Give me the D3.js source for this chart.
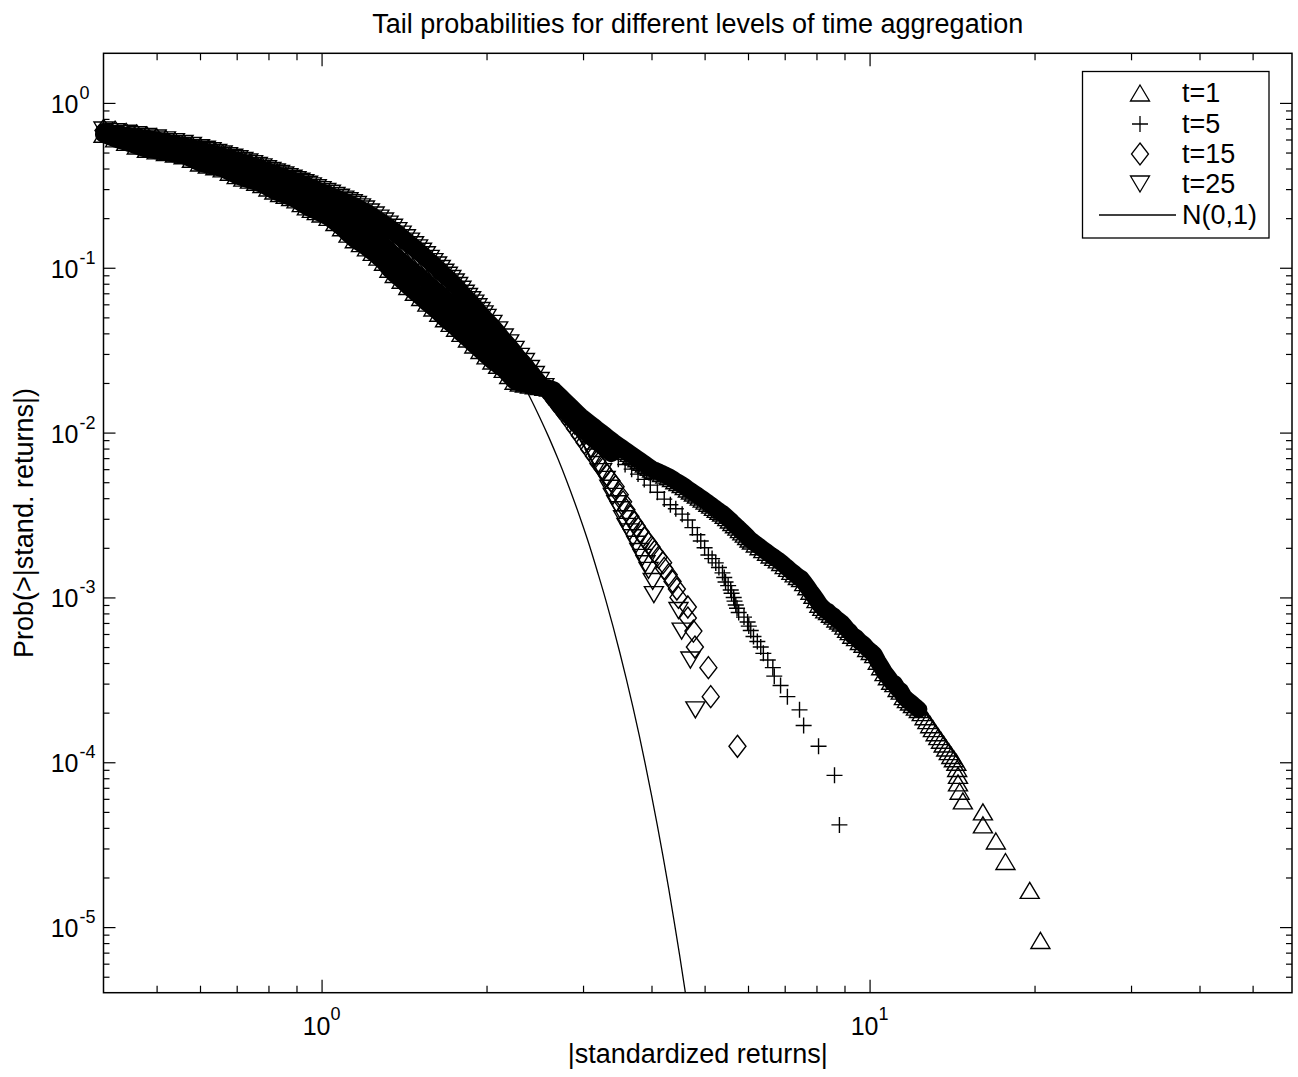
<!DOCTYPE html>
<html>
<head>
<meta charset="utf-8">
<script src="https://cdn.jsdelivr.net/npm/d3@7"></script>
<style>
body { margin: 0; background: #fff; }
text { font-family: "Liberation Sans", Arial, Helvetica, sans-serif; fill: #000; }
</style>
</head>
<body>
<svg id="chart" width="1298" height="1077"></svg>
<script>

// tick labels (powers of ten)
var xMajor = [1, 10];
var xMajorExp = ["0", "1"];
var yMajor = [1, 1e-1, 1e-2, 1e-3, 1e-4, 1e-5];
var yMajorExp = ["0", "-1", "-2", "-3", "-4", "-5"];

var seriesNames = ["t=1", "t=5", "t=15", "t=25", "N(0,1)"];

// where each series' markers pile up into a solid run (x upper limit)
var solidUntil = [12.4, 3.4, 2.75, 2.75];

// [ |standardized return| , Prob(>|x|) ]
var t1 = [
  [0.40,0.645],[0.42,0.605],[0.44,0.576],[0.46,0.548],[0.48,0.523],[0.50,0.512],[0.52,0.500],[0.54,0.490],[0.56,0.478],[0.58,0.455],
  [0.60,0.432],[0.62,0.420],[0.64,0.410],[0.66,0.398],[0.68,0.380],[0.70,0.362],[0.72,0.350],[0.74,0.340],[0.76,0.330],[0.78,0.320],
  [0.80,0.305],[0.82,0.292],[0.84,0.282],[0.86,0.275],[0.88,0.267],[0.90,0.258],[0.92,0.245],[0.94,0.234],[0.96,0.226],[0.98,0.219],
  [1.00,0.212],[1.03,0.202],[1.06,0.188],[1.09,0.175],[1.12,0.160],[1.15,0.148],[1.18,0.140],[1.21,0.132],[1.24,0.124],[1.27,0.116],
  [1.30,0.108],[1.33,0.098],[1.36,0.091],[1.40,0.084],[1.44,0.077],[1.48,0.071],[1.52,0.066],[1.56,0.061],[1.60,0.057],[1.64,0.053],
  [1.68,0.049],[1.72,0.046],[1.76,0.043],[1.80,0.040],[1.85,0.037],[1.90,0.034],[1.95,0.0315],[2.00,0.0292],[2.05,0.0272],[2.10,0.0256],
  [2.15,0.0242],[2.20,0.0222],[2.25,0.0205],[2.30,0.0200],[2.35,0.0197],[2.40,0.0194],[2.45,0.0192],[2.50,0.0190],[2.55,0.0188],[2.60,0.0186],
  [2.65,0.0182],[2.69,0.01733],[2.73,0.01652],[2.77,0.01576],[2.81,0.01505],[2.85,0.01437],[2.89,0.01374],[2.93,0.01314],[2.97,0.01258],[3.01,0.01215],
  [3.05,0.01174],[3.09,0.01134],[3.13,0.01097],[3.17,0.0106],[3.21,0.01027],[3.25,0.00994],[3.29,0.00963],[3.33,0.00933],[3.37,0.00905],[3.41,0.00877],
  [3.45,0.00854],[3.49,0.00831],[3.53,0.00809],[3.57,0.00788],[3.61,0.00768],[3.65,0.00748],[3.69,0.00729],[3.73,0.00711],[3.77,0.00694],[3.81,0.00677],
  [3.85,0.00661],[3.89,0.00645],[3.93,0.0063],[3.97,0.00615],[4.01,0.0060],[4.06,0.0059],[4.12,0.00578],[4.18,0.00565],[4.24,0.00552],[4.30,0.0054],
  [4.36,0.00526],[4.42,0.0051],[4.48,0.00497],[4.54,0.00484],[4.60,0.0047],[4.66,0.00455],[4.72,0.00442],[4.78,0.0043],[4.84,0.00418],[4.90,0.00406],
  [4.96,0.00395],[5.02,0.00384],[5.08,0.00373],[5.14,0.00363],[5.20,0.00352],[5.26,0.00342],[5.32,0.00333],[5.38,0.00325],[5.44,0.00315],[5.50,0.00305],
  [5.56,0.00295],[5.62,0.00285],[5.68,0.00276],[5.74,0.00267],[5.80,0.00258],[5.86,0.0025],[5.92,0.00242],[5.98,0.00234],[6.04,0.00226],[6.10,0.0022],
  [6.20,0.00211],[6.30,0.00203],[6.40,0.00195],[6.50,0.00188],[6.60,0.00181],[6.70,0.00175],[6.80,0.00169],[6.90,0.00163],[7.00,0.00156],[7.10,0.0015],
  [7.20,0.00144],[7.30,0.00139],[7.40,0.00134],[7.50,0.0013],[7.60,0.00123],[7.70,0.00116],[7.80,0.00109],[7.90,0.00103],[8.00,0.00097],[8.10,0.00091],
  [8.20,0.00087],[8.30,0.00084],[8.40,0.00082],[8.50,0.00079],[8.60,0.00077],[8.70,0.00074],[8.80,0.00072],[8.90,0.0007],[9.00,0.00067],[9.10,0.00064],
  [9.20,0.00062],[9.30,0.00059],[9.45,0.00057],[9.60,0.00054],[9.75,0.00052],[9.90,0.00049],[10.05,0.00047],[10.20,0.00045],[10.35,0.00041],[10.50,0.00038],
  [10.65,0.00035],[10.80,0.00033],[10.95,0.00031],[11.10,0.0003],[11.25,0.00028],[11.40,0.00027],[11.55,0.00025],[11.70,0.00024],[11.85,0.000232],[12.00,0.000224],
  [12.15,0.000216],[12.30,0.000209],[12.45,0.0002],[12.60,0.000189],[12.75,0.000179],[12.90,0.000169],[13.05,0.00016],[13.20,0.000151],[13.35,0.000143],[13.50,0.000136],
  [13.65,0.000129],[13.80,0.000122],[13.95,0.000116],[14.10,0.00011],[14.25,0.000105],[14.40,0.0001],[14.45,0.0000917],[14.50,0.0000833],[14.50,0.000075],[14.60,0.0000667],
  [14.80,0.0000583],[16.10,0.00005],[16.10,0.0000417],[17.00,0.0000333],[17.70,0.000025],[19.60,0.0000167],[20.50,0.0000083]
];

var t5 = [
  [0.40,0.675],[0.42,0.655],[0.44,0.628],[0.46,0.605],[0.48,0.585],[0.50,0.565],[0.52,0.548],[0.54,0.531],[0.56,0.515],[0.58,0.498],
  [0.60,0.482],[0.62,0.466],[0.64,0.451],[0.66,0.437],[0.68,0.423],[0.70,0.408],[0.72,0.394],[0.74,0.381],[0.76,0.368],[0.78,0.356],
  [0.80,0.344],[0.83,0.328],[0.86,0.312],[0.89,0.297],[0.92,0.283],[0.95,0.269],[0.98,0.256],[1.01,0.244],[1.04,0.232],[1.07,0.217],
  [1.10,0.202],[1.13,0.190],[1.16,0.180],[1.19,0.171],[1.22,0.160],[1.26,0.149],[1.30,0.137],[1.34,0.125],[1.38,0.115],[1.42,0.106],
  [1.46,0.098],[1.50,0.091],[1.55,0.083],[1.60,0.0755],[1.65,0.0688],[1.70,0.0628],[1.75,0.0573],[1.80,0.0522],[1.85,0.0479],[1.90,0.0436],
  [1.95,0.0401],[2.00,0.037],[2.06,0.0336],[2.12,0.031],[2.18,0.0281],[2.24,0.0254],[2.30,0.0237],[2.36,0.0224],[2.42,0.0212],[2.48,0.0200],
  [2.54,0.0189],[2.60,0.0178],[2.66,0.0163],[2.72,0.0148],[2.78,0.0134],[2.85,0.0122],[2.92,0.0112],[3.00,0.0103],[3.08,0.0095],[3.18,0.0087],
  [3.28,0.0080],[3.38,0.0074],[3.48,0.0069],[3.58,0.0064],[3.68,0.0060],[3.78,0.0056],[3.88,0.0052],[3.98,0.0048],[4.10,0.00435],[4.22,0.00395],
  [4.33,0.00365],[4.43,0.00345],[4.55,0.0032],[4.66,0.00295],[4.75,0.00265],[4.85,0.0024],[4.92,0.0022],[5.00,0.0020],[5.08,0.00181],[5.16,0.00172],
  [5.24,0.00162],[5.31,0.00152],[5.39,0.00141],[5.43,0.00132],[5.46,0.00124],[5.52,0.00118],[5.58,0.00111],[5.60,0.00106],[5.65,0.00100],[5.67,0.00095],
  [5.70,0.00090],[5.73,0.00086],[5.77,0.00081],[5.90,0.00076],[5.99,0.00071],[6.02,0.00067],[6.07,0.00063],[6.14,0.00058],[6.24,0.00054],[6.33,0.00050],
  [6.40,0.000458],[6.52,0.000417],[6.66,0.000375],[6.70,0.000333],[6.88,0.000292],[7.08,0.000250],[7.45,0.000208],[7.58,0.000167],[8.07,0.000125],[8.63,0.0000833],
  [8.81,0.0000417]
];

var t15 = [
  [0.40,0.680],[0.42,0.664],[0.44,0.645],[0.46,0.630],[0.48,0.613],[0.50,0.598],[0.52,0.582],[0.54,0.566],[0.56,0.550],[0.58,0.535],
  [0.60,0.520],[0.62,0.505],[0.64,0.490],[0.66,0.476],[0.68,0.462],[0.70,0.448],[0.72,0.434],[0.74,0.421],[0.76,0.408],[0.78,0.395],
  [0.80,0.383],[0.83,0.366],[0.86,0.349],[0.89,0.334],[0.92,0.319],[0.95,0.305],[0.98,0.291],[1.01,0.278],[1.04,0.266],[1.07,0.254],
  [1.10,0.242],[1.13,0.231],[1.16,0.220],[1.19,0.209],[1.22,0.199],[1.26,0.186],[1.30,0.174],[1.34,0.162],[1.38,0.151],[1.42,0.140],
  [1.46,0.130],[1.50,0.121],[1.55,0.110],[1.60,0.100],[1.65,0.091],[1.70,0.083],[1.75,0.075],[1.80,0.068],[1.85,0.062],[1.90,0.056],
  [1.95,0.051],[2.00,0.047],[2.06,0.042],[2.12,0.038],[2.18,0.034],[2.24,0.031],[2.30,0.028],[2.36,0.0255],[2.42,0.0232],[2.48,0.021],
  [2.54,0.019],[2.60,0.0172],[2.66,0.0156],[2.72,0.0142],[2.78,0.0129],[2.84,0.0117],[2.90,0.0106],[2.96,0.0096],[3.02,0.0087],[3.08,0.0079],
  [3.14,0.0072],[3.20,0.0065],[3.26,0.0060],[3.32,0.0055],[3.38,0.0051],[3.44,0.0047],[3.50,0.0042],[3.55,0.0038],[3.60,0.0034],[3.66,0.0031],
  [3.72,0.00285],[3.76,0.0027],[3.82,0.0025],[3.88,0.0023],[3.95,0.00215],[4.00,0.00202],[4.05,0.0019],[4.12,0.00175],[4.20,0.001625],[4.22,0.0015],
  [4.30,0.001375],[4.37,0.00125],[4.45,0.001125],[4.48,0.001],[4.66,0.000875],[4.66,0.00075],[4.77,0.000625],[4.80,0.0005],[5.08,0.000375],[5.13,0.00025],
  [5.74,0.000125]
];

var t25 = [
  [0.40,0.685],[0.42,0.670],[0.44,0.655],[0.46,0.641],[0.48,0.627],[0.50,0.613],[0.52,0.597],[0.54,0.582],[0.56,0.567],[0.58,0.552],
  [0.60,0.535],[0.615,0.524],[0.63,0.513],[0.645,0.501],[0.66,0.490],[0.675,0.479],[0.69,0.468],[0.705,0.458],[0.72,0.448],[0.735,0.438],
  [0.75,0.428],[0.765,0.418],[0.78,0.409],[0.795,0.399],[0.81,0.390],[0.825,0.381],[0.84,0.373],[0.855,0.365],[0.87,0.357],[0.885,0.349],
  [0.90,0.342],[0.915,0.335],[0.93,0.328],[0.945,0.321],[0.96,0.314],[0.98,0.306],[1.00,0.298],[1.02,0.290],[1.04,0.283],[1.06,0.275],
  [1.08,0.268],[1.10,0.261],[1.12,0.255],[1.14,0.248],[1.16,0.242],[1.18,0.234],[1.20,0.227],[1.225,0.218],[1.25,0.209],[1.275,0.200],
  [1.30,0.192],[1.325,0.184],[1.35,0.176],[1.375,0.168],[1.40,0.160],[1.425,0.152],[1.45,0.145],[1.475,0.138],[1.50,0.132],[1.525,0.126],
  [1.55,0.120],[1.575,0.114],[1.60,0.109],[1.625,0.104],[1.65,0.099],[1.675,0.094],[1.70,0.090],[1.725,0.086],[1.75,0.082],[1.775,0.078],
  [1.80,0.074],[1.825,0.070],[1.85,0.067],[1.875,0.064],[1.90,0.061],[1.925,0.058],[1.95,0.055],[1.975,0.0525],[2.00,0.050],[2.05,0.046],
  [2.10,0.042],[2.15,0.038],[2.20,0.035],[2.25,0.032],[2.30,0.029],[2.35,0.027],[2.40,0.0245],[2.45,0.0225],[2.50,0.0207],[2.55,0.0190],
  [2.60,0.0175],[2.65,0.0160],[2.70,0.0147],[2.75,0.0135],[2.80,0.0125],[2.85,0.0116],[2.90,0.0109],[2.95,0.0102],[3.00,0.0094],[3.05,0.0087],
  [3.10,0.0079],[3.15,0.0071],[3.20,0.0064],[3.25,0.0058],[3.30,0.0052],[3.35,0.0046],[3.40,0.0041],[3.45,0.0037],[3.50,0.0034],[3.55,0.0030],
  [3.60,0.0027],[3.65,0.0025],[3.70,0.0023],[3.75,0.0021],[3.80,0.0019],[3.85,0.00175],[3.90,0.0016],[3.95,0.00146],[4.02,0.00125],[4.04,0.00104],
  [4.48,0.000833],[4.54,0.000625],[4.71,0.000417],[4.81,0.000208]
];

// standard normal two-sided tail P(|Z|>x)
var normal = [
  [0.40,0.6892],[0.50,0.6171],[0.60,0.5485],[0.70,0.4839],[0.80,0.4237],[0.90,0.3681],[1.00,0.3173],[1.10,0.2713],[1.20,0.2301],[1.30,0.1936],
  [1.40,0.1615],[1.50,0.1336],[1.60,0.1096],[1.70,0.0891],[1.80,0.0719],[1.90,0.0574],[2.00,0.0455],[2.10,0.0357],[2.20,0.0278],[2.30,0.0214],
  [2.40,0.0164],[2.50,0.0124],[2.60,0.00932],[2.70,0.00693],[2.80,0.00511],[2.90,0.00373],[3.00,0.00270],[3.10,0.00194],[3.20,0.00137],[3.30,0.000967],
  [3.40,0.000674],[3.50,0.000465],[3.60,0.000318],[3.70,0.000216],[3.80,0.000145],[3.90,0.0000962],[4.00,0.0000633],[4.10,0.0000413],[4.20,0.0000267],[4.30,0.0000171],
  [4.40,0.0000108],[4.50,0.0000068],[4.60,0.00000423],[4.70,0.0000026]
];

var W = 1298, H = 1077;
var mLeft = 103.5, mRight = 1292, mTop = 53.3, mBottom = 992.7;

var x = d3.scaleLog().domain([0.4, 59]).range([mLeft, mRight]);
var y = d3.scaleLog().domain([4e-6, 2]).range([mBottom, mTop]);

var svg = d3.select('#chart');
svg.append('rect').attr('width', W).attr('height', H).attr('fill', '#fff');

// marker shapes (MATLAB-like)
var markers = {
  triUp: "M0,-8L9.5,8L-9.5,8Z",
  plus: "M-8,0H8M0,-8V8",
  diamond: "M0,-11L8.5,0L0,11L-8.5,0Z",
  triDown: "M0,8L9.5,-8L-9.5,-8Z"
};

// minor tick values
var xMinor = [];
[0.1, 1, 10].forEach(function(d) {
  for (var k = 2; k <= 9; k++) {
    var v = k * d;
    if (v > 0.4 && v < 59) xMinor.push(v);
  }
});
var yMinor = [];
[1e-6, 1e-5, 1e-4, 1e-3, 1e-2, 1e-1, 1].forEach(function(d) {
  for (var k = 2; k <= 9; k++) {
    var v = k * d;
    if (v > 4e-6 && v < 2) yMinor.push(v);
  }
});

function tickGroup(axis, vals, size, tr) {
  var g = svg.append('g').attr('transform', tr)
    .call(axis.tickValues(vals).tickSize(-size).tickSizeOuter(0).tickFormat(''));
  g.select('.domain').remove();
  g.selectAll('line').attr('stroke', '#000').attr('stroke-width', 1.2);
}

tickGroup(d3.axisBottom(x), xMajor, 13, 'translate(0,' + mBottom + ')');
tickGroup(d3.axisBottom(x), xMinor, 7, 'translate(0,' + mBottom + ')');
tickGroup(d3.axisTop(x), xMajor, 13, 'translate(0,' + mTop + ')');
tickGroup(d3.axisTop(x), xMinor, 7, 'translate(0,' + mTop + ')');
tickGroup(d3.axisLeft(y), yMajor, 12, 'translate(' + mLeft + ',0)');
tickGroup(d3.axisLeft(y), yMinor, 6, 'translate(' + mLeft + ',0)');
tickGroup(d3.axisRight(y), yMajor, 12, 'translate(' + mRight + ',0)');
tickGroup(d3.axisRight(y), yMinor, 6, 'translate(' + mRight + ',0)');

// tick labels 10^n
xMajor.forEach(function(v, i) {
  var t = svg.append('text').attr('x', x(v)).attr('y', 1035)
    .attr('text-anchor', 'middle').style('font-size', '25px');
  t.append('tspan').text('10');
  t.append('tspan').attr('dy', -15).style('font-size', '18px').text(xMajorExp[i]);
});
yMajor.forEach(function(v, i) {
  svg.append('text').attr('x', 78.5).attr('y', y(v) + 10)
    .attr('text-anchor', 'end').style('font-size', '25px').text('10');
  svg.append('text').attr('x', 79.5).attr('y', y(v) - 4)
    .attr('text-anchor', 'start').style('font-size', '18px').text(yMajorExp[i]);
});

// plot frame
svg.append('rect')
  .attr('x', mLeft).attr('y', mTop)
  .attr('width', mRight - mLeft).attr('height', mBottom - mTop)
  .attr('fill', 'none').attr('stroke', '#000').attr('stroke-width', 1.5);

var line = d3.line().x(function(d) { return x(d[0]); }).y(function(d) { return y(d[1]); });

// series: the overlapping markers merge into a solid black run, then the markers themselves
function drawSeries(data, shape, limit, runWidth) {
  svg.append('path').datum(data.filter(function(d) { return d[0] <= limit; }))
    .attr('d', line).attr('fill', 'none').attr('stroke', '#000')
    .attr('stroke-width', runWidth).attr('stroke-linejoin', 'round').attr('stroke-linecap', 'round');
  svg.append('g').selectAll('path').data(data).join('path')
    .attr('d', markers[shape])
    .attr('transform', function(d) { return 'translate(' + x(d[0]) + ',' + y(d[1]) + ')'; })
    .attr('fill', 'none').attr('stroke', '#000').attr('stroke-width', 1.4);
}
drawSeries(t1, 'triUp', solidUntil[0], 17);
drawSeries(t5, 'plus', solidUntil[1], 16);
drawSeries(t15, 'diamond', solidUntil[2], 13);
drawSeries(t25, 'triDown', solidUntil[3], 13);

svg.append('clipPath').attr('id', 'plotclip').append('rect')
  .attr('x', mLeft).attr('y', mTop).attr('width', mRight - mLeft).attr('height', mBottom - mTop);

svg.append('path').datum(normal)
  .attr('clip-path', 'url(#plotclip)')
  .attr('d', line.curve(d3.curveMonotoneX)).attr('fill', 'none').attr('stroke', '#000').attr('stroke-width', 1.3);

// legend
var lg = svg.append('g');
lg.append('rect').attr('x', 1082.5).attr('y', 71.5).attr('width', 186.5).attr('height', 166.5)
  .attr('fill', '#fff').attr('stroke', '#000').attr('stroke-width', 1.3);
var legendShapes = ['triUp', 'plus', 'diamond', 'triDown'];
var rowY = [93, 124, 154, 184, 215];
seriesNames.forEach(function(name, i) {
  if (i < 4) {
    lg.append('path').attr('d', markers[legendShapes[i]])
      .attr('transform', 'translate(1140,' + rowY[i] + ')')
      .attr('fill', 'none').attr('stroke', '#000').attr('stroke-width', 1.3);
  } else {
    lg.append('line').attr('x1', 1099).attr('x2', 1176).attr('y1', rowY[i]).attr('y2', rowY[i])
      .attr('stroke', '#000').attr('stroke-width', 1.3);
  }
  lg.append('text').attr('x', 1182).attr('y', rowY[i] + 9).style('font-size', '27px').text(name);
});

// titles
svg.append('text').attr('x', (mLeft + mRight) / 2).attr('y', 33)
  .attr('text-anchor', 'middle').style('font-size', '27px')
  .text('Tail probabilities for different levels of time aggregation');
svg.append('text').attr('x', (mLeft + mRight) / 2).attr('y', 1063)
  .attr('text-anchor', 'middle').style('font-size', '27px')
  .text('|standardized returns|');
svg.append('text').attr('transform', 'translate(33,' + (mTop + mBottom) / 2 + ') rotate(-90)')
  .attr('text-anchor', 'middle').style('font-size', '27px')
  .text('Prob(>|stand. returns|)');

</script>
</body>
</html>
